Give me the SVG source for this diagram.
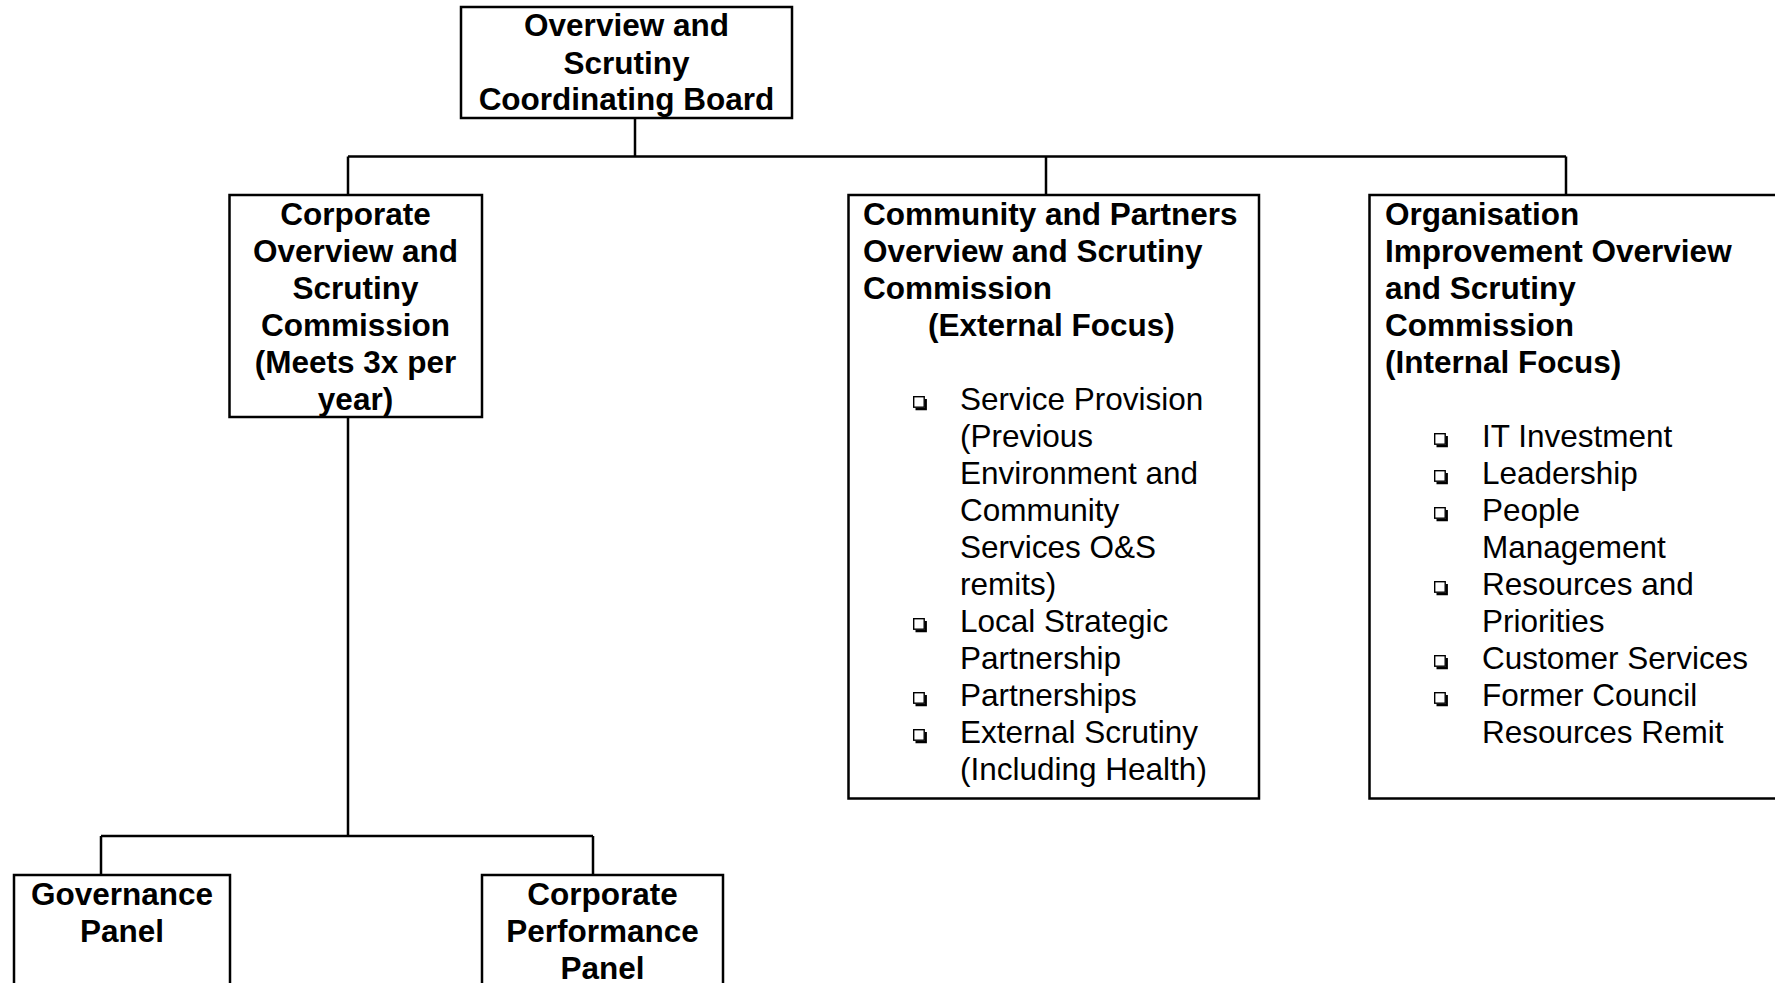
<svg xmlns="http://www.w3.org/2000/svg" xmlns:xlink="http://www.w3.org/1999/xlink" width="1775" height="983" viewBox="0 0 1775 983">
<style>
.box{fill:#fff;stroke:#000;stroke-width:2.5}
.conn{fill:none;stroke:#000;stroke-width:2.5}
.b{font-family:"Liberation Sans",Arial,sans-serif;font-weight:bold;font-size:31.5px;fill:#000}
.r{font-family:"Liberation Sans",Arial,sans-serif;font-size:31.5px;fill:#000}
.c{text-anchor:middle}
</style>
<defs>
<g id="bul">
<rect x="0.7" y="-13.3" width="10.5" height="10.5" fill="#fff" stroke="#000" stroke-width="1.4"/>
<path d="M2.5 -0.9 H12.8 V-11" fill="none" stroke="#000" stroke-width="2.2"/>
</g>
</defs>
<rect width="1775" height="983" fill="#fff"/>
<g id="connectors">
<path class="conn" d="M635 118 V156.5 M348 156.5 H1566 M348 156.5 V195 M1046 156.5 V195 M1566 156.5 V195"/>
<path class="conn" d="M348 417 V836 M101 836 H593 M101 836 V875 M593 836 V875"/>
</g>
<g id="board">
<rect class="box" x="461" y="7" width="331" height="111"/>
<text class="b c" x="626.5" y="36">Overview and</text>
<text class="b c" x="626.5" y="74">Scrutiny</text>
<text class="b c" x="626.5" y="110">Coordinating Board</text>
</g>
<g id="corporate">
<rect class="box" x="229.5" y="195" width="252.5" height="222"/>
<text class="b c" x="355.5" y="225">Corporate</text>
<text class="b c" x="355.5" y="262">Overview and</text>
<text class="b c" x="355.5" y="299">Scrutiny</text>
<text class="b c" x="355.5" y="336">Commission</text>
<text class="b c" x="355.5" y="373">(Meets 3x per</text>
<text class="b c" x="355.5" y="410">year)</text>
</g>
<g id="community">
<rect class="box" x="848.5" y="195" width="410.5" height="603.5"/>
<text class="b" x="863" y="225">Community and Partners</text>
<text class="b" x="863" y="262">Overview and Scrutiny</text>
<text class="b" x="863" y="299">Commission</text>
<text class="b" x="928" y="336">(External Focus)</text>
<use xlink:href="#bul" x="913" y="410"/>
<text class="r" x="960" y="410">Service Provision</text>
<text class="r" x="960" y="447">(Previous</text>
<text class="r" x="960" y="484">Environment and</text>
<text class="r" x="960" y="521">Community</text>
<text class="r" x="960" y="558">Services O&amp;S</text>
<text class="r" x="960" y="595">remits)</text>
<use xlink:href="#bul" x="913" y="632"/>
<text class="r" x="960" y="632">Local Strategic</text>
<text class="r" x="960" y="669">Partnership</text>
<use xlink:href="#bul" x="913" y="706"/>
<text class="r" x="960" y="706">Partnerships</text>
<use xlink:href="#bul" x="913" y="743"/>
<text class="r" x="960" y="743">External Scrutiny</text>
<text class="r" x="960" y="780">(Including Health)</text>
</g>
<g id="organisation">
<rect class="box" x="1369.5" y="195" width="420" height="603.5"/>
<text class="b" x="1385" y="225">Organisation</text>
<text class="b" x="1385" y="262">Improvement Overview</text>
<text class="b" x="1385" y="299">and Scrutiny</text>
<text class="b" x="1385" y="336">Commission</text>
<text class="b" x="1385" y="373">(Internal Focus)</text>
<use xlink:href="#bul" x="1434" y="447"/>
<text class="r" x="1482" y="447">IT Investment</text>
<use xlink:href="#bul" x="1434" y="484"/>
<text class="r" x="1482" y="484">Leadership</text>
<use xlink:href="#bul" x="1434" y="521"/>
<text class="r" x="1482" y="521">People</text>
<text class="r" x="1482" y="558">Management</text>
<use xlink:href="#bul" x="1434" y="595"/>
<text class="r" x="1482" y="595">Resources and</text>
<text class="r" x="1482" y="632">Priorities</text>
<use xlink:href="#bul" x="1434" y="669"/>
<text class="r" x="1482" y="669">Customer Services</text>
<use xlink:href="#bul" x="1434" y="706"/>
<text class="r" x="1482" y="706">Former Council</text>
<text class="r" x="1482" y="743">Resources Remit</text>
</g>
<g id="governance">
<rect class="box" x="14" y="875" width="216" height="130"/>
<text class="b c" x="122" y="905">Governance</text>
<text class="b c" x="122" y="942">Panel</text>
</g>
<g id="performance">
<rect class="box" x="482" y="875" width="241" height="130"/>
<text class="b c" x="602.5" y="905">Corporate</text>
<text class="b c" x="602.5" y="942">Performance</text>
<text class="b c" x="602.5" y="979">Panel</text>
</g>
</svg>
